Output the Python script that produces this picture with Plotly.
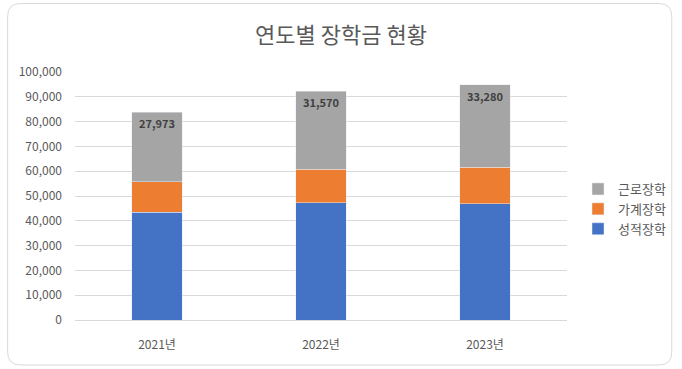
import plotly.graph_objects as go

years = ["2021년", "2022년", "2023년"]
merit = [43500, 47200, 46800]      # 성적장학
need = [12300, 13500, 14800]       # 가계장학
work = [27973, 31570, 33280]       # 근로장학
series_names = ["성적장학", "가계장학", "근로장학"]
colors = ["#4472C4", "#ED7D31", "#A5A5A5"]
y_ticks = list(range(0, 100001, 10000))

FONT = "Noto Sans CJK KR"
TXT = "#595959"

fig = go.Figure()
fig.add_bar(x=years, y=merit, name=series_names[0], marker_color=colors[0], width=0.31,
            legendrank=3)
fig.add_bar(x=years, y=need, name=series_names[1], marker_color=colors[1], width=0.31,
            legendrank=2)
fig.add_bar(x=years, y=work, name=series_names[2], marker_color=colors[2], width=0.31,
            legendrank=1,
            text=[f"<b>{v:,}</b>" for v in work], textposition="inside", insidetextanchor="end",
            textfont=dict(family=FONT, size=11, color="#404040"), textangle=0)

W, H = 682, 369
ml, mr, mt, mb = 75, 114, 72, 49
pw, ph = W - ml - mr, H - mt - mb

def px(x):
    return (x - ml) / pw

def py(y):
    return (H - mb - y) / ph

x0, x1, y0, y1 = px(7.5), px(673), py(365), py(3.5)
rx, ry = 13 / pw, 13 / ph
path = (f"M {x0+rx},{y0} L {x1-rx},{y0} Q {x1},{y0} {x1},{y0+ry} "
        f"L {x1},{y1-ry} Q {x1},{y1} {x1-rx},{y1} L {x0+rx},{y1} "
        f"Q {x0},{y1} {x0},{y1-ry} L {x0},{y0+ry} Q {x0},{y0} {x0+rx},{y0} Z")

fig.update_layout(
    width=W, height=H,
    margin=dict(l=ml, r=mr, t=mt, b=mb),
    barmode="stack",
    paper_bgcolor="white", plot_bgcolor="white",
    font=dict(family=FONT, color=TXT, size=11),
    title=dict(text="연도별 장학금 현황", x=0.5, xref="container", xanchor="center",
               y=1 - 35 / H, yanchor="middle",
               font=dict(family=FONT, size=22, color=TXT)),
    legend=dict(traceorder="normal", x=px(578), xanchor="left", y=py(209), yanchor="middle",
                font=dict(family=FONT, size=13, color=TXT), itemwidth=30,
                bgcolor="rgba(0,0,0,0)"),
    xaxis=dict(showgrid=False, showline=True, linecolor="#D9D9D9", ticks="",
               tickfont=dict(family=FONT, size=12, color=TXT), ticklabelstandoff=14),
    yaxis=dict(range=[0, 100000], tickvals=y_ticks, tickformat=",",
               showgrid=True, gridcolor="#D9D9D9", zeroline=False, showline=False,
               tickfont=dict(family=FONT, size=12, color=TXT), ticklabelstandoff=12),
    shapes=[dict(type="path", xref="paper", yref="paper", path=path,
                 line=dict(color="#D9D9D9", width=1), fillcolor="rgba(0,0,0,0)", layer="below")],
    showlegend=True,
)

fig.write_html("out.html", config={"displayModeBar": False},
               post_script="document.body.style.margin='0';")
